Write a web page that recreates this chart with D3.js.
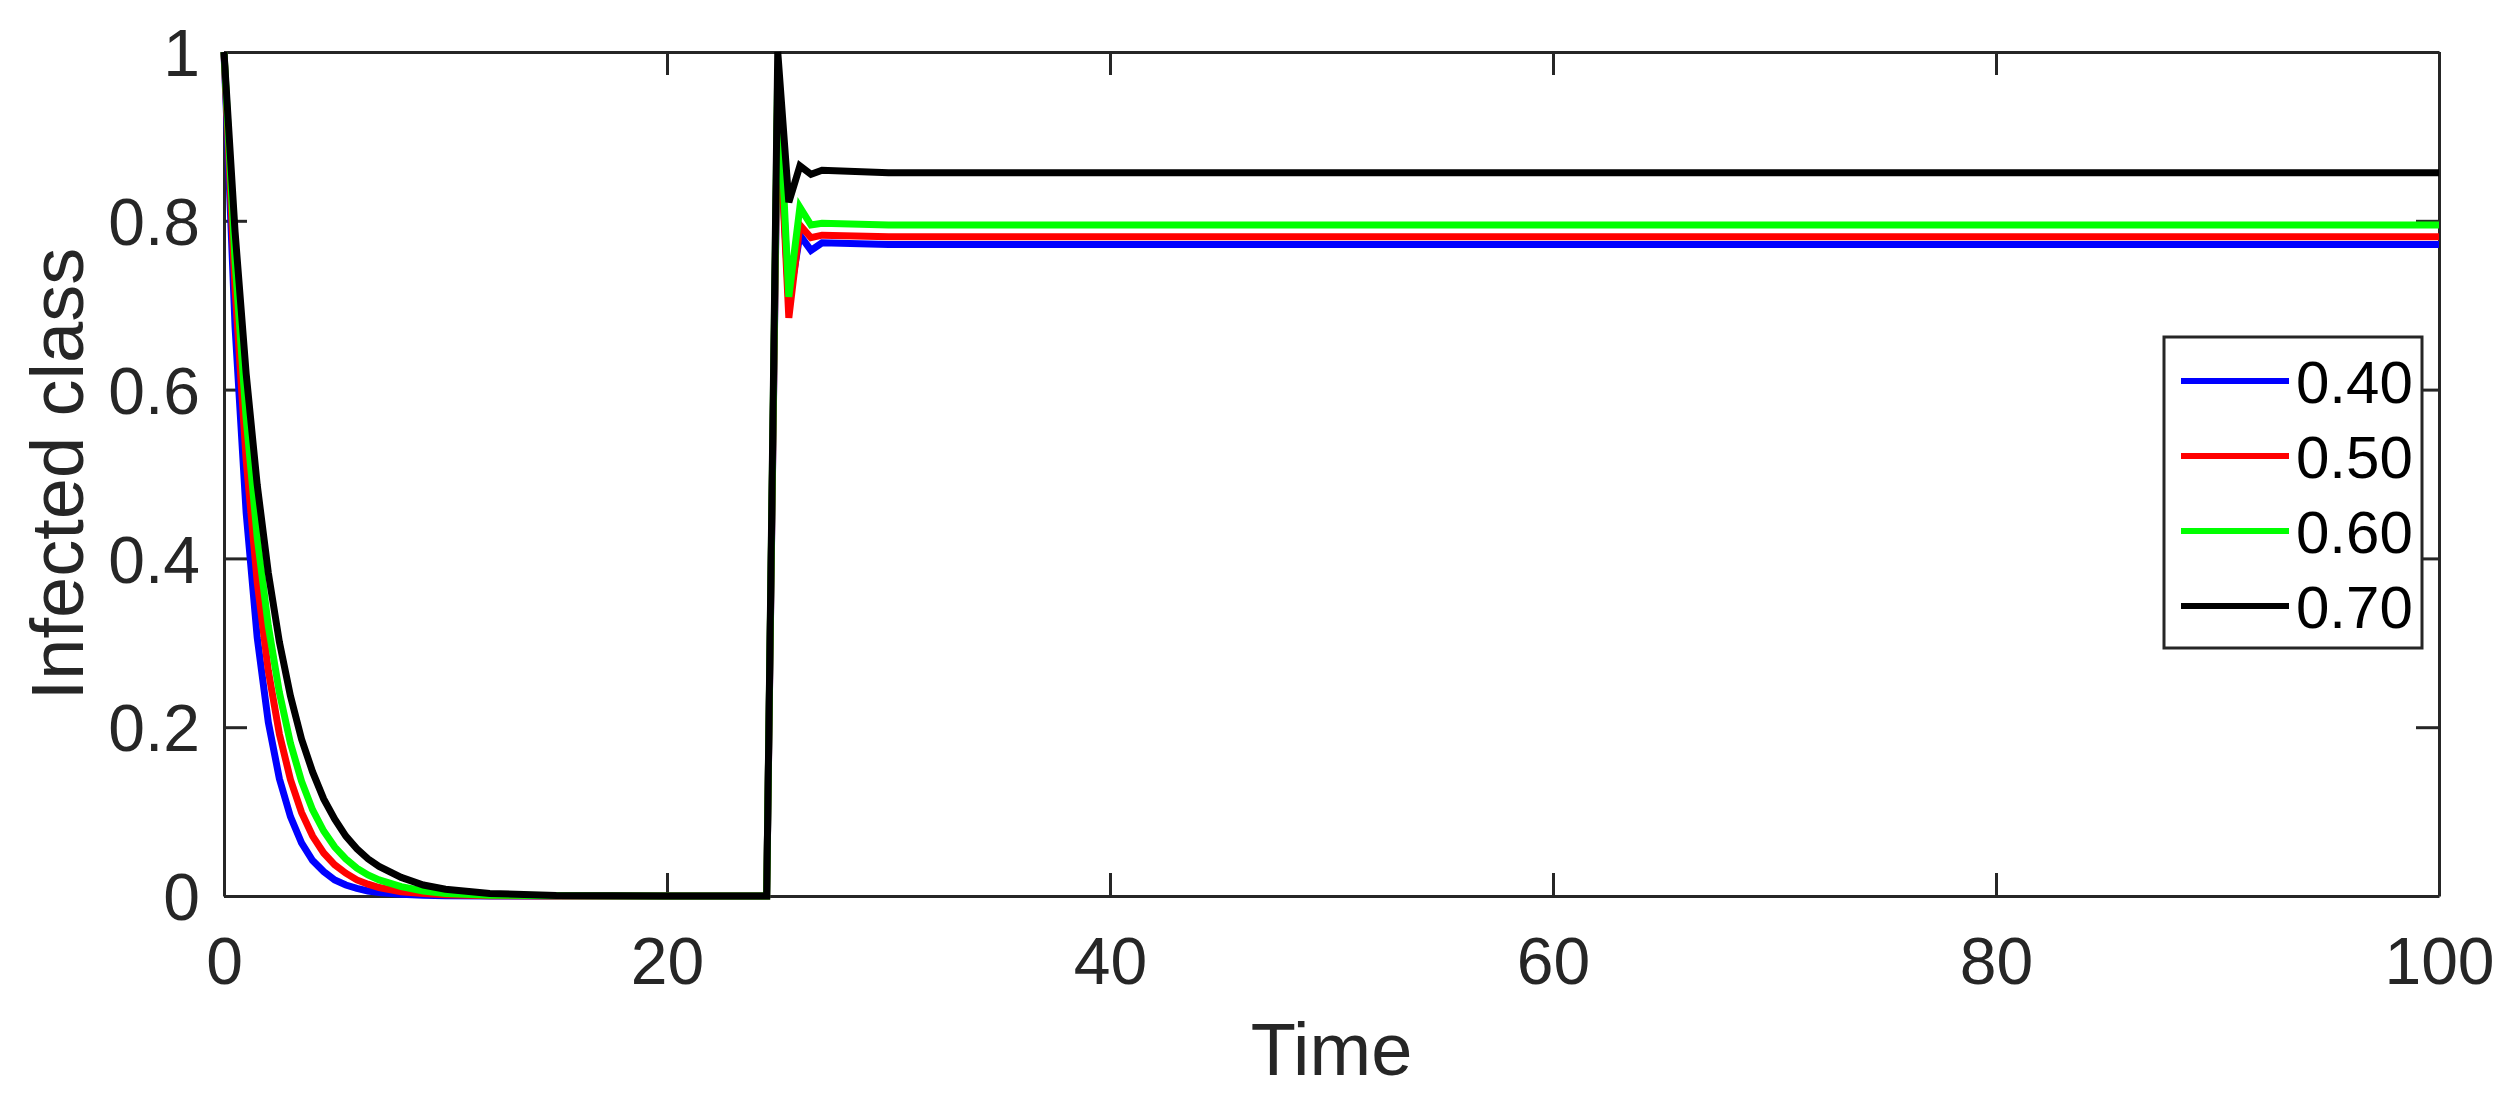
<!DOCTYPE html>
<html>
<head>
<meta charset="utf-8">
<script src="https://cdn.jsdelivr.net/npm/d3@7"></script>
<style>
  html, body { margin: 0; padding: 0; background: #fff; }
  svg { display: block; }
  text { font-family: "Liberation Sans", Arial, Helvetica, sans-serif; }
</style>
</head>
<body>
<svg id="chart" width="2520" height="1115"></svg>
<script>
// ---- data ----
const times = [0,0.5,1,1.5,2,2.5,3,3.5,4,4.5,5,5.5,6,6.5,7,8,9,10,12,15,20,24.5,25,25.5,26,26.5,27,30,100];
const blue  = [1,0.674,0.454,0.306,0.206,0.139,0.094,0.063,0.042,0.029,0.019,0.013,0.009,0.006,0.004,0.002,0.001,0.0004,0.0001,0,0,0,0.95,0.703,0.783,0.765,0.774,0.772,0.772];
const red   = [1,0.719,0.517,0.372,0.267,0.192,0.138,0.099,0.071,0.051,0.037,0.027,0.019,0.014,0.010,0.005,0.003,0.0014,0.0004,0.0001,0,0,0.96,0.685,0.795,0.78,0.783,0.781,0.781];
const green = [1,0.752,0.566,0.425,0.320,0.241,0.181,0.136,0.102,0.077,0.058,0.044,0.033,0.025,0.019,0.011,0.006,0.003,0.001,0.0002,0,0,0.98,0.71,0.816,0.795,0.797,0.795,0.795];
const black = [1,0.787,0.619,0.487,0.383,0.301,0.237,0.186,0.147,0.115,0.091,0.071,0.056,0.044,0.035,0.022,0.013,0.008,0.003,0.0007,0,0,1,0.822,0.865,0.855,0.86,0.857,0.857];
const seriesNames = ["0.40","0.50","0.60","0.70"];
const seriesColors = ["#0000ff","#ff0000","#00ff00","#000000"];
const xTicks = [0,20,40,60,80,100];
const yTicks = [0,0.2,0.4,0.6,0.8,1];
const xLabel = "Time";
const yLabel = "Infected class";

const series = [blue, red, green, black];

// ---- layout ----
const L = 224, R = 2439, T = 52, B = 896;
const axisColor = "#262626";
const svg = d3.select("#chart");
svg.append("rect").attr("width",2520).attr("height",1115).attr("fill","#fff");

const x = d3.scaleLinear().domain([0,100]).range([L,R]);
const y = d3.scaleLinear().domain([0,1]).range([B,T]);

function styleAxis(g){
  g.select(".domain").attr("stroke",axisColor).attr("stroke-width",3);
  g.selectAll(".tick line").attr("stroke",axisColor).attr("stroke-width",3);
  g.selectAll(".tick text").attr("fill",axisColor).attr("font-size",66)
   .attr("font-family",'"Liberation Sans", Arial, Helvetica, sans-serif');
}

// bottom
const gx = svg.append("g").attr("transform",`translate(0,${B})`)
  .call(d3.axisBottom(x).tickValues(xTicks).tickFormat(d3.format("d")).tickSizeInner(-23).tickSizeOuter(0).tickPadding(40));
styleAxis(gx);
gx.selectAll(".tick text").attr("dy","0.71em").attr("y",41);
// top
const gxt = svg.append("g").attr("transform",`translate(0,${T})`)
  .call(d3.axisTop(x).tickValues(xTicks).tickFormat("").tickSizeInner(-23).tickSizeOuter(0));
styleAxis(gxt);
// left
const gy = svg.append("g").attr("transform",`translate(${L},0)`)
  .call(d3.axisLeft(y).tickValues(yTicks).tickFormat(d => d===0||d===1 ? d3.format("d")(d) : d3.format(".1f")(d)).tickSizeInner(-23).tickSizeOuter(0));
styleAxis(gy);
gy.selectAll(".tick text").attr("x",-24).attr("dy","0.36em");
// right
const gyr = svg.append("g").attr("transform",`translate(${R},0)`)
  .call(d3.axisRight(y).tickValues(yTicks).tickFormat("").tickSizeInner(-23).tickSizeOuter(0));
styleAxis(gyr);

// axis labels
svg.append("text").attr("x",(L+R)/2).attr("y",1075).attr("text-anchor","middle")
  .attr("font-size",74).attr("fill",axisColor).text(xLabel);
svg.append("text").attr("transform",`translate(83,${(T+B)/2}) rotate(-90)`)
  .attr("text-anchor","middle").attr("font-size",74).attr("fill",axisColor).text(yLabel);

// lines
const line = d3.line().x((d,i)=>x(times[i])).y(d=>y(d));
series.forEach((s,i)=>{
  svg.append("path").datum(s).attr("d",line).attr("fill","none")
    .attr("stroke",seriesColors[i]).attr("stroke-width",7)
    .attr("stroke-linejoin","miter").attr("stroke-linecap","butt");
});

// legend
const lg = svg.append("g");
lg.append("rect").attr("x",2164).attr("y",337).attr("width",258).attr("height",311)
  .attr("fill","#fff").attr("stroke",axisColor).attr("stroke-width",3);
seriesNames.forEach((n,i)=>{
  const yy = 381 + i*75;
  lg.append("line").attr("x1",2181).attr("x2",2289).attr("y1",yy).attr("y2",yy)
    .attr("stroke",seriesColors[i]).attr("stroke-width",6);
  lg.append("text").attr("x",2296).attr("y",yy+22).attr("font-size",60).attr("fill","#000").text(n);
});
</script>
</body>
</html>
